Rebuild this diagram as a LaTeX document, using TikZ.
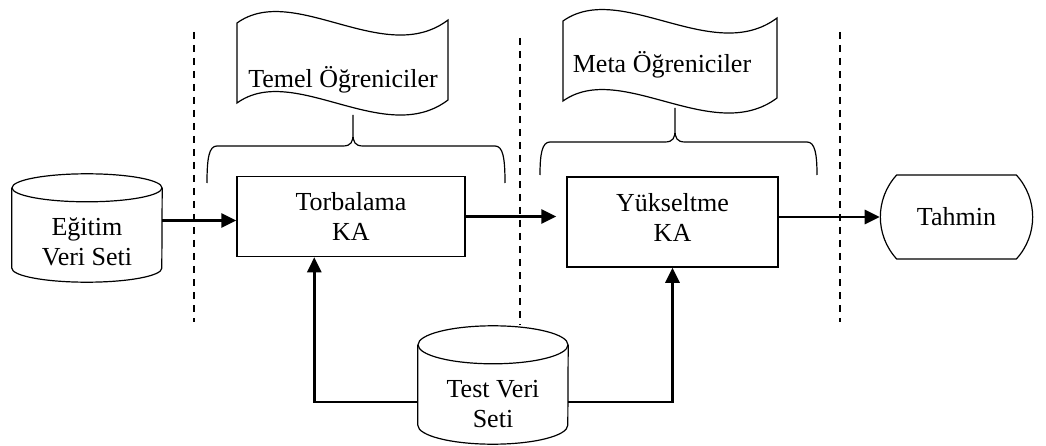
\documentclass[tikz,border=0pt]{standalone}
\usepackage{fontspec}
\setmainfont{Liberation Serif}
\usetikzlibrary{arrows.meta,shapes.misc,calc}

\tikzset{
  box/.style={draw, line width=1.5pt, minimum width=228pt, minimum height=80pt, align=center},
  db/.style={minimum width=150pt, minimum height=80pt, align=center},
  endbox/.style={rounded rectangle, draw, line width=1.2pt, rounded rectangle arc length=85,
    minimum width=159pt, minimum height=84pt},
  flow/.style={-{Triangle[length=15pt,width=14pt]}, line width=2.7pt},
  sep/.style={dash pattern=on 7pt off 6pt, line width=1.5pt},
  outline/.style={line width=1.2pt},
}

% wavy tape: left x, right x, top y
\newcommand{\tape}[3]{%
  \draw[outline] (#1,#3+3) .. controls ({#1+0.27*(#2-#1)},#3-38) and ({#1+0.70*(#2-#1)},#3+48) .. (#2,#3)
    -- (#2,#3+80) .. controls ({#1+0.70*(#2-#1)},#3+128) and ({#1+0.27*(#2-#1)},#3+42) .. (#1,#3+83) -- cycle;}
% curly brace: left x, right x, middle x, bar y, end y, tip y
\newcommand{\curly}[6]{%
  \draw[outline] (#1,#5) .. controls (#1,#4+12) and (#1+2,#4) .. (#1+10,#4) -- (#3-10,#4)
    .. controls (#3-2,#4) and (#3,#4-4) .. (#3,#4-12) -- (#3,#6) -- (#3,#4-12)
    .. controls (#3,#4-4) and (#3+2,#4) .. (#3+10,#4) -- (#2-10,#4)
    .. controls (#2-2,#4) and (#2,#4+12) .. (#2,#5);}
% drum around a body node: node name, ellipse radius
\newcommand{\drum}[2]{%
  \draw[outline] ([yshift=#2pt]#1.north west) -- ([yshift=#2pt]#1.south west)
    arc[start angle=180, end angle=0, x radius=75, y radius=#2] -- ([yshift=#2pt]#1.north east);
  \draw[outline] ([yshift=#2pt]#1.north) ellipse[x radius=75, y radius=#2];}

\begin{document}
\begin{tikzpicture}[x=1pt, y=-1pt, font=\fontsize{26}{30}\selectfont]
  \useasboundingbox (0,0) rectangle (1046,446);

  % separators
  \draw[sep] (194,32) -- (194,322);
  \draw[sep] (520,38) -- (520,325);
  \draw[sep] (840,32) -- (840,322);

  % learners
  \tape{237}{448}{20}
  \tape{563}{777}{18}
  \node[anchor=base] (temel) at (343,88) {Temel Öğreniciler};
  \node[anchor=base] (meta) at (662,73) {Meta Öğreniciler};
  \curly{207}{505}{353}{146}{183}{115}
  \curly{540}{817}{675}{142}{175}{108}

  % main flow
  \node[db] (egitim) at (87,242) {Eğitim\\Veri Seti};
  \drum{egitim}{14}
  \node[box] (torba) at (351,216.5) {Torbalama\\KA};
  \node[box, minimum width=211pt, minimum height=90pt] (yuksel) at (672.5,222) {};
  \node[align=center] (yukseltext) at ([yshift=5pt]yuksel.center) {Yükseltme\\KA};
  \node[endbox] (tahmin) at (956.5,217) {Tahmin};
  \node[db] (test) at (493,404) {Test Veri\\Seti};
  \drum{test}{19}

  \draw[flow] ([yshift=-4pt]egitim.east |- torba.west) -- ([yshift=-4pt]torba.west);
  \draw[flow, shorten >=10pt] (torba.east) -- (torba.east -| yuksel.west);
  \draw[flow] (yuksel.east |- tahmin.west) -- (tahmin.west);
  \draw[flow] ([yshift=2pt]test.west) -| ($(torba.south west)!0.34!(torba.south east)$);
  \draw[flow] ([yshift=2pt]test.east) -| (yuksel.south);
\end{tikzpicture}
\end{document}
